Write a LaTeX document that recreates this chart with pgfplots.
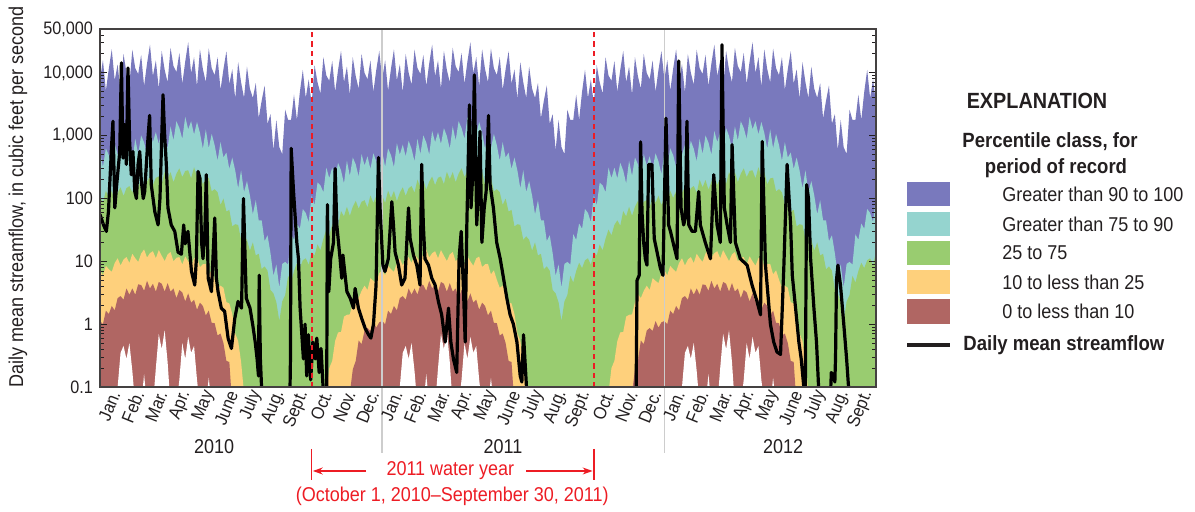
\documentclass[border=0pt]{standalone}
\usepackage{pgfplots}
\pgfplotsset{compat=1.18}
\usepackage{pgfplotstable}
\usepackage{fontspec}
\setmainfont{Liberation Sans}[FakeStretch=0.9]
\usetikzlibrary{arrows.meta}
\definecolor{cpur}{RGB}{121,121,189}
\definecolor{ccya}{RGB}{149,212,207}
\definecolor{cgre}{RGB}{153,204,112}
\definecolor{cyel}{RGB}{254,208,124}
\definecolor{cbro}{RGB}{176,102,99}
\definecolor{cred}{RGB}{237,28,36}
\definecolor{ctext}{RGB}{35,31,32}
\definecolor{cgray}{RGB}{205,205,205}

\pgfplotstableread{
m mn p10 p25 p75 p90 mx
0 0.05 1.12 7.2 112 560 7900
0.125 0.05 1.0 6.0 85 320 16000
0.25 0.05 1.64 8.5 133 630 5200
0.375 0.05 1.45 7.5 102 490 11700
0.5 0.05 1.95 6.8 132 316 23700
0.625 0.05 1.66 9.4 91 760 7600
0.75 0.1 2.6 11.2 124 500 13700
0.875 0.35 2.8 8.6 151 720 4900
1.0 0.45 2.45 10.7 110 470 20000
1.125 0.28 3.7 11.7 146 830 10100
1.25 0.5 2.95 9.4 158 620 6500
1.375 0.18 3.7 13.2 124 390 23400
1.5 0.05 2.95 11.2 200 890 11900
1.625 0.05 4.3 9.8 151 510 9600
1.75 0.05 4.2 13.3 197 1010 19400
1.875 0.16 3.4 15.5 138 780 6200
2.0 0.05 4.9 11.5 186 500 14100
2.125 0.05 3.7 13.5 224 1190 28200
2.25 0.05 4.4 14.5 164 790 8900
2.375 0.2 3.3 11.2 214 1140 15800
2.5 0.7 4.7 15.1 224 740 5600
2.625 0.4 4.4 12.3 170 1320 22400
2.75 0.8 3.3 10.1 266 990 11200
2.875 0.25 4.5 12.9 204 620 7100
3.0 0.05 3.3 14.1 263 1410 25100
3.125 0.05 3.7 10 182 840 12800
3.25 0.05 2.6 11.4 248 1700 10300
3.375 0.13 3.5 11.7 302 1330 20800
3.5 0.5 3.2 8.9 219 890 6700
3.625 0.28 2.3 12.0 275 2000 15200
3.75 0.63 3.1 10 282 1260 30800
3.875 0.35 2.2 8.5 209 1700 9900
4.0 0.45 2.45 11.2 316 1050 17800
4.125 0.13 1.7 11.9 221 1660 6100
4.25 0.05 2.2 8.1 263 1110 23700
4.375 0.05 1.95 9.0 168 620 11500
4.5 0.05 1.38 9.1 209 1260 7100
4.625 0.14 1.64 6.2 214 630 24400
4.75 0.05 1.05 7.2 130 1070 11900
4.875 0.05 1.04 5.1 141 710 9200
5.0 0.05 0.66 3.8 126 400 17800
5.125 0.05 0.71 4.1 79 790 5400
5.25 0.05 0.5 3.8 100 450 11500
5.375 0.05 0.26 2.24 62 540 22100
5.5 0.05 0.25 2.14 66 295 6700
5.625 0.05 0.05 1.45 36 450 11400
5.75 0.05 0.05 0.71 39 280 3900
5.875 0.05 0.05 0.54 38 145 14800
6.0 0.05 0.05 0.25 22 282 7100
6.125 0.05 0.05 0.08 25 126 4000
6.25 0.05 0.05 0.05 22 190 12600
6.375 0.05 0.05 0.05 14.8 112 5600
6.5 0.05 0.05 0.05 20 56 4000
6.625 0.05 0.05 0.05 12.4 94 6900
6.75 0.05 0.05 0.05 13.2 45 1900
6.875 0.05 0.05 0.05 7.5 45 3600
7.0 0.05 0.05 0.05 8.3 21 6300
7.125 0.05 0.05 0.05 7.1 26 1550
7.25 0.05 0.05 0.05 3.5 13.5 2200
7.375 0.05 0.05 0.05 3.1 5.9 590
7.5 0.05 0.05 0.05 2.24 8.9 1780
7.625 0.05 0.05 0.05 1.12 3.8 660
7.75 0.05 0.05 0.05 2.3 9.1 510
7.875 0.05 0.05 0.05 2.9 9.8 2600
8.0 0.05 0.05 0.05 5.9 8.9 1780
8.125 0.05 0.05 0.05 4.6 27 1780
8.25 0.05 0.05 0.05 7.0 22 4500
8.375 0.05 0.05 0.05 9.5 40 1780
8.5 0.05 0.05 0.05 7.8 33 5000
8.625 0.05 0.05 0.05 10.4 68 11200
8.75 0.05 0.05 0.05 11.2 59 4000
8.875 0.05 0.05 0.05 8.8 42 7900
9.0 0.05 0.05 0.05 14.1 112 3200
9.125 0.05 0.05 0.05 12.4 78 13300
9.25 0.05 0.05 0.05 18.6 180 7100
9.375 0.05 0.05 0.05 15.0 162 4700
9.5 0.05 0.05 0.05 23 126 17800
9.625 0.05 0.05 0.08 32 310 9100
9.75 0.05 0.05 0.2 26 211 7500
9.875 0.05 0.05 0.26 38 310 15500
10.0 0.05 0.05 0.54 45 209 5000
10.125 0.05 0.05 0.74 37 370 11200
10.25 0.05 0.05 0.75 63 280 22400
10.375 0.05 0.05 1.32 52 174 7100
10.5 0.05 0.05 1.41 74 400 12600
10.625 0.05 0.08 1.43 53 229 4500
10.75 0.05 0.19 2.24 74 450 17800
10.875 0.05 0.26 3.0 92 350 8900
11.0 0.05 0.55 2.6 69 224 5600
11.125 0.05 0.48 3.4 89 510 20000
11.25 0.05 0.79 4.1 94 335 10000
11.375 0.05 0.87 3.5 72 470 7900
11.5 0.05 0.78 5.4 112 295 15800
11.625 0.05 1.12 4.9 85 525 5000
11.75 0.05 0.88 4.5 111 390 11200
11.875 0.05 1.07 6.5 78 245 22400
12.0 0.05 1.12 7.2 112 560 7900
}\bands

\pgfplotstableread{
m q
0.00 56
0.15 38
0.27 30
0.36 62
0.48 560
0.55 1700
0.63 71
0.71 166
0.84 560
0.91 14500
0.98 440
1.05 1500
1.12 350
1.19 12000
1.26 810
1.33 240
1.40 560
1.48 129
1.55 100
1.62 350
1.69 560
1.76 186
1.84 100
1.90 129
2.04 910
2.11 2100
2.18 166
2.33 62
2.47 38
2.55 100
2.62 810
2.68 4500
2.74 1200
2.82 350
2.89 71
3.03 38
3.18 30
3.32 14
3.46 13
3.56 38
3.62 19
3.74 30
3.89 6.9
4.03 4.2
4.10 11
4.17 270
4.25 210
4.32 20
4.38 11
4.46 30
4.52 240
4.60 5.4
4.74 3.3
4.88 49
4.95 5.4
5.02 3.3
5.16 1.8
5.30 1.6
5.45 0.59
5.59 0.41
5.73 1.23
5.87 2.3
6.02 1.8
6.10 100
6.22 2.6
6.38 1.8
6.50 0.95
6.60 0.52
6.68 0.28
6.74 0.15
6.77 6.0
6.82 0.28
6.87 0.1
6.95 0.05
8.07 0.05
8.10 0.3
8.13 630
8.23 130
8.37 20
8.44 11
8.51 1.8
8.65 0.28
8.72 1.0
8.79 0.15
8.86 0.68
8.96 0.13
9.05 0.52
9.15 0.28
9.22 0.6
9.32 0.17
9.40 0.41
9.50 0.08
9.57 0.05
9.64 0.08
9.67 80
9.73 3.3
9.81 11
9.93 20
10.00 300
10.07 38
10.21 11
10.28 5.4
10.33 12.6
10.50 3.3
10.64 2.6
10.78 1.8
10.85 3.7
10.99 1.8
11.13 1.23
11.28 0.85
11.42 0.68
11.52 0.6
11.63 1.0
11.74 4.2
11.84 450
11.91 71
12.03 8.7
12.12 6.9
12.26 11
12.41 89
12.48 38
12.55 14
12.69 8.7
12.83 4.2
12.97 5.4
13.12 71
13.19 23
13.33 12.6
13.47 8.7
13.61 4.2
13.68 350
13.75 38
13.82 11
13.97 8.7
14.11 5.4
14.25 4.2
14.39 2.3
14.53 1.41
14.68 0.52
14.82 1.8
14.92 0.52
15.03 0.28
15.17 0.17
15.27 11
15.36 30
15.46 3.3
15.53 0.52
15.60 38
15.71 3100
15.78 71
15.85 240
15.92 9300
16.02 38
16.09 129
16.16 1170
16.24 20
16.34 71
16.42 129
16.52 2100
16.59 166
16.73 71
16.87 20
17.02 11
17.16 5.4
17.30 2.6
17.44 1.41
17.58 1.0
17.73 0.52
17.87 0.15
17.94 0.12
18.01 0.68
18.11 0.15
18.18 0.05
22.75 0.05
22.80 0.1
22.84 5.0
22.93 6.0
22.99 800
23.05 60
23.12 20
23.19 11
23.26 8.7
23.33 350
23.47 350
23.57 23
23.69 14
23.83 7.8
23.94 6.0
24.07 1900
24.18 38
24.26 30
24.40 18
24.54 11
24.61 15500
24.71 71
24.82 38
24.89 49
24.96 1700
25.04 38
25.18 30
25.32 30
25.46 129
25.53 38
25.74 20
25.96 11
26.10 240
26.24 38
26.38 20
26.45 28000
26.55 71
26.67 38
26.81 20
26.88 720
27.02 20
27.23 11
27.52 8.7
27.73 4.2
27.94 2.3
28.09 1.41
28.16 810
28.30 8.7
28.51 1.0
28.65 0.52
28.79 0.36
28.94 0.33
29.08 8
29.22 350
29.37 38
29.44 6.0
29.58 1.8
29.72 0.52
29.82 0.28
29.93 0.1
29.99 0.05
30.05 166
30.13 100
30.22 11
30.36 1.8
30.47 0.52
30.57 0.08
30.62 0.05
31.05 0.05
31.10 0.17
31.20 0.15
31.25 0.12
31.28 0.3
31.32 5.0
31.38 8.7
31.49 4.2
31.63 1.0
31.75 0.28
31.85 0.08
31.90 0.05
33.00 0.05
}\flow

\begin{document}
\begin{tikzpicture}[font=\fontsize{10}{12}\selectfont, text=ctext]
\begin{axis}[name=ax,
  scale only axis, width=388pt, height=179pt,
  ymode=log, ymin=0.1, ymax=50000, xmin=0, xmax=33,
  log origin y=infty,
  clip mode=individual, axis on top,
  axis line style={line width=0.8pt, draw=ctext!85},
  ytick={0.1,1,10,100,1000,10000,50000},
  yticklabels={0.1,1,10,100,{1,000},{10,000},{50,000}},
  minor ytick={0.2,0.3,0.4,0.5,0.6,0.7,0.8,0.9,2,3,4,5,6,7,8,9,20,30,40,50,60,70,80,90,200,300,400,500,600,700,800,900,2000,3000,4000,5000,6000,7000,8000,9000,20000,30000,40000},
  xtick={0.5,1.5,...,32.5},
  xticklabels={Jan.,Feb.,Mar.,Apr.,May,June,July,Aug.,Sept.,Oct.,Nov.,Dec.,Jan.,Feb.,Mar.,Apr.,May,June,July,Aug.,Sept.,Oct.,Nov.,Dec.,Jan.,Feb.,Mar.,Apr.,May,June,July,Aug.,Sept.},
  minor xtick={0,1,...,33},
  xtick style={draw=none},
  major tick length=3.5pt, minor tick length=2.2pt,
  every tick/.style={ctext, line width=0.5pt},
  tick label style={font=\fontsize{9}{10}\selectfont, text=ctext},
  xticklabel style={rotate=68, anchor=east, yshift=-2.5pt, xshift=2pt},
]
\pgfplotsinvokeforeach{0,12,24}{
  \addplot[fill=cpur, draw=none] table[x expr=\thisrow{m}+#1, y=mx]{\bands} \closedcycle;
  \addplot[fill=ccya, draw=none] table[x expr=\thisrow{m}+#1, y=p90]{\bands} \closedcycle;
  \addplot[fill=cgre, draw=none] table[x expr=\thisrow{m}+#1, y=p75]{\bands} \closedcycle;
  \addplot[fill=cyel, draw=none] table[x expr=\thisrow{m}+#1, y=p25]{\bands} \closedcycle;
  \addplot[fill=cbro, draw=none] table[x expr=\thisrow{m}+#1, y=p10]{\bands} \closedcycle;
  \addplot[fill=white, draw=none] table[x expr=\thisrow{m}+#1, y=mn]{\bands} \closedcycle;
}
\draw[cgray, line width=0.7pt] (axis cs:12,50000) -- ([yshift=-33pt]axis cs:12,0.1);
\draw[cgray, line width=0.7pt] (axis cs:24,50000) -- ([yshift=-33pt]axis cs:24,0.1);
\addplot[black, line width=1.6pt, line join=round] table[x=m, y=q]{\flow};
\draw[cred, line width=0.9pt, dash pattern=on 2.6pt off 2pt] (axis cs:9.02,0.1) -- (axis cs:9.02,50000);
\draw[cred, line width=0.9pt, dash pattern=on 2.6pt off 2pt] (axis cs:21,0.1) -- (axis cs:21,50000);
\node[font=\fontsize{10}{12}\selectfont] at ([yshift=-30pt]axis cs:4.85,0.1) {2010};
\node[font=\fontsize{10}{12}\selectfont] at ([yshift=-30pt]axis cs:17.14,0.1) {2011};
\node[font=\fontsize{10}{12}\selectfont] at ([yshift=-30pt]axis cs:29.05,0.1) {2012};
\draw[cred, line width=0.7pt] ([yshift=-31pt]axis cs:9,0.1) -- ([yshift=-46.5pt]axis cs:9,0.1);
\draw[cred, line width=0.7pt] ([yshift=-31pt]axis cs:21,0.1) -- ([yshift=-46.5pt]axis cs:21,0.1);
\draw[cred, line width=0.7pt, -{Stealth[length=5pt,width=3.5pt]}] ([yshift=-42pt]axis cs:11.32,0.1) -- ([yshift=-42pt]axis cs:9.05,0.1);
\draw[cred, line width=0.7pt, -{Stealth[length=5pt,width=3.5pt]}] ([yshift=-42pt]axis cs:18.13,0.1) -- ([yshift=-42pt]axis cs:20.95,0.1);
\node[text=cred] at ([yshift=-42pt]axis cs:14.9,0.1) {2011 water year};
\node[text=cred] at ([yshift=-54.5pt]axis cs:14.98,0.1) {(October 1, 2010–September 30, 2011)};
\end{axis}
\begin{scope}[shift={(ax.south west)}, every node/.style={inner sep=0pt}]
\node[font=\bfseries\fontsize{11}{13}\selectfont] at (468.5pt,143pt) {EXPLANATION};
\node[font=\bfseries\fontsize{10.3}{12}\selectfont] at (475pt,122.5pt) {Percentile class, for};
\node[font=\bfseries\fontsize{10.3}{12}\selectfont] at (478pt,109.5pt) {period of record};
\fill[cpur] (403.5pt,90.5pt) rectangle (425pt,102.5pt);
\fill[ccya] (403.5pt,75.5pt) rectangle (425pt,87.5pt);
\fill[cgre] (403.5pt,61pt) rectangle (425pt,73pt);
\fill[cyel] (403.5pt,46.5pt) rectangle (425pt,58.5pt);
\fill[cbro] (403.5pt,31.5pt) rectangle (425pt,44pt);
\node[anchor=west] at (451pt,96.5pt) {Greater than 90 to 100};
\node[anchor=west] at (451pt,81.5pt) {Greater than 75 to 90};
\node[anchor=west] at (451pt,67pt) {25 to 75};
\node[anchor=west] at (451pt,52.5pt) {10 to less than 25};
\node[anchor=west] at (451pt,38pt) {0 to less than 10};
\draw[ctext, line width=1.6pt] (403.5pt,21pt) -- (425pt,21pt);
\node[anchor=west, font=\bfseries\fontsize{10.3}{12}\selectfont] at (431.5pt,21pt) {Daily mean streamflow};
\node[rotate=90] at (-41pt,95pt) {Daily mean streamflow, in cubic feet per second};
\end{scope}
\pgfresetboundingbox
\path ([shift={(-50pt,-62.5pt)}]ax.south west) rectangle ([shift={(547.5pt,193.5pt)}]ax.south west);
\end{tikzpicture}
\end{document}
